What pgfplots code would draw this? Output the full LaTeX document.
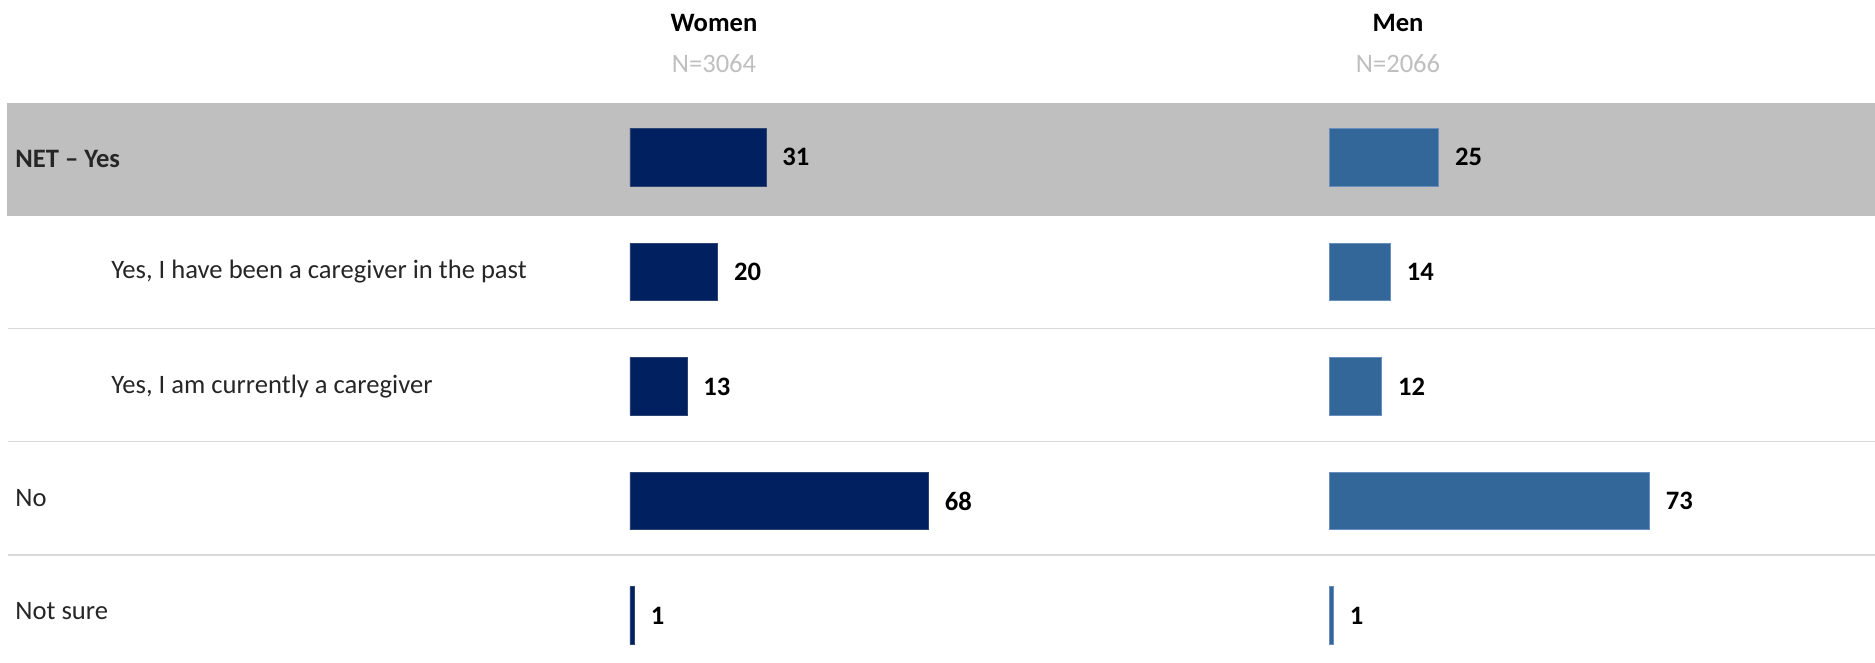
\documentclass[border=0pt]{standalone}
\usepackage{fontspec}
\setmainfont{Carlito}
\usepackage{pgfplots}
\pgfplotsset{compat=1.18}
\definecolor{navy}{HTML}{002060}
\definecolor{navyedge}{HTML}{2E4472}
\definecolor{menblue}{HTML}{336699}
\definecolor{menedge}{HTML}{6A8FBF}
\definecolor{bandgray}{HTML}{BFBFBF}
\definecolor{sepgray}{HTML}{D9D9D9}
\definecolor{ngray}{HTML}{BFBFBF}
\definecolor{labelgray}{HTML}{262626}
\newcommand{\fs}{\fontsize{13.3pt}{16pt}\selectfont}
\pgfplotsset{panel/.style={
  scale only axis, width=219.5pt, height=286.5pt,
  xmin=0, xmax=100, ymin=-0.5, ymax=4.5, y dir=reverse,
  axis line style={draw=none}, xtick=\empty, major tick length=0pt,
  xbar, bar width=28.75pt, clip=false,
  /pgf/number format/assume math mode=true,
  nodes near coords,
  every node near coord/.append style={font=\fs\bfseries, text=black, inner sep=0pt, xshift=8pt, anchor=west},
}}
\begin{document}
\begin{tikzpicture}
\useasboundingbox (0,0) rectangle (937.5pt,-331.5pt);
\fill[bandgray] (3.5pt,-51.35pt) rectangle (937.5pt,-108pt);
\foreach \yy in {164.3,220.75,277.4} \draw[sepgray, line width=0.75pt] (4pt,-\yy pt) -- (937.5pt,-\yy pt);
\node[anchor=base, font=\fs\bfseries, text=black] at (357pt,-16pt) {Women};
\node[anchor=base, font=\fs, text=ngray] at (357pt,-36.5pt) {N=3064};
\node[anchor=base, font=\fs\bfseries, text=black] at (699pt,-16pt) {Men};
\node[anchor=base, font=\fs, text=ngray] at (699pt,-36.5pt) {N=2066};
\begin{axis}[panel, at={(315pt,-49.95pt)}, anchor=north west,
  ytick={0.019,0.988,1.9895,2.976,3.961},
  yticklabels={{\bfseries NET -- Yes},{\hspace*{48pt}Yes, I have been a caregiver in the past},{\hspace*{48pt}Yes, I am currently a caregiver},{No},{Not sure}},
  yticklabel style={anchor=base west, inner sep=0pt, xshift=-307.5pt, yshift=-4.2pt, font=\fs, text=labelgray}]
\addplot[xbar, fill=navy, draw=navyedge, line width=0.4pt] coordinates {(31,0) (20,1) (13,2) (68,3) (1,4)};
\end{axis}
\begin{axis}[panel, at={(664.5pt,-49.95pt)}, anchor=north west, ytick=\empty]
\addplot[xbar, fill=menblue, draw=menedge, line width=0.4pt] coordinates {(25,0) (14,1) (12,2) (73,3) (1,4)};
\end{axis}
\end{tikzpicture}
\end{document}
